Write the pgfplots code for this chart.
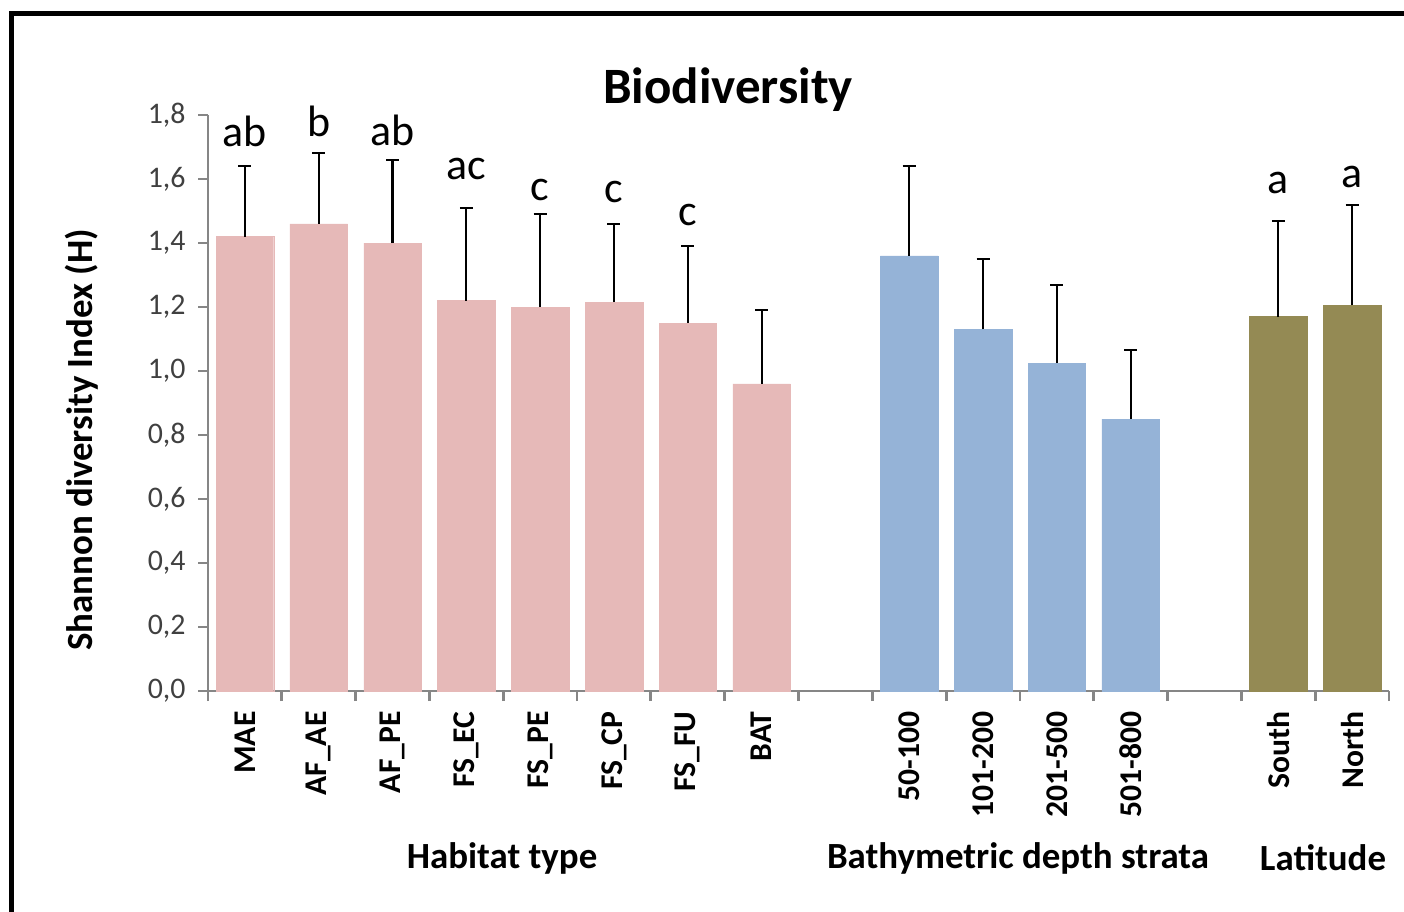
\documentclass[border=0pt]{standalone}
\usepackage{fontspec}
\setmainfont{Carlito}
\usepackage{pgfplots}
\pgfplotsset{compat=1.18}
\usepackage{pgfplotstable}

\definecolor{habit}{HTML}{E6B9B8}
\definecolor{depth}{HTML}{95B3D7}
\definecolor{lat}{HTML}{948A54}
\definecolor{axgray}{HTML}{868686}
\definecolor{ticktxt}{HTML}{404040}

% x = slot, y = mean H, e = upper error
\pgfplotstableread{
x y e
0 1.42 0.22
1 1.46 0.22
2 1.40 0.26
3 1.22 0.29
4 1.20 0.29
5 1.215 0.245
6 1.15 0.24
7 0.96 0.23
}\habitat

\pgfplotstableread{
x y e
9 1.36 0.28
10 1.13 0.22
11 1.025 0.245
12 0.85 0.215
}\depth

\pgfplotstableread{
x y e
14 1.17 0.30
15 1.205 0.315
}\latit

\pgfplotsset{
  hbar/.style={ybar, bar width=0.78, bar shift=0pt, line width=0.1pt},
  ebar/.style={draw=none, mark=none, forget plot,
    error bars/.cd, y dir=plus, y explicit,
    error mark=|,
    error bar style={draw=black, solid, line width=0.6pt},
    error mark options={draw=black, solid, line width=0.6pt, mark size=0.065cm},
    /pgfplots/.cd},
}

\begin{document}
\begin{tikzpicture}
\useasboundingbox (0,0) rectangle (14.04,9.11);
% outer frame (only top and left edges visible)
\draw[line width=0.05cm] (0.11,-0.5) -- (0.11,8.975) -- (14.6,8.975);

\begin{axis}[
  at={(2.08cm,2.20cm)}, anchor=south west,
  scale only axis, width=11.81cm, height=5.76cm,
  xmin=-0.5, xmax=15.5, ymin=0, ymax=1.8,
  axis x line*=bottom, axis y line*=left,
  axis line style={axgray, line width=0.8pt},
  clip=false,
  xtick={0,1,2,3,4,5,6,7,9,10,11,12,14,15},
  xticklabels={MAE,AF\_AE,AF\_PE,FS\_EC,FS\_PE,FS\_CP,FS\_FU,BAT,
    50-100,101-200,201-500,501-800,South,North},
  major x tick style={draw=none},
  minor xtick={-0.5,0.5,1.5,2.5,3.5,4.5,5.5,6.5,7.5,8.5,9.5,10.5,11.5,12.5,13.5,14.5,15.5},
  minor x tick style={draw=axgray, line width=0.8pt},
  ytick={0,0.2,0.4,0.6,0.8,1.0,1.2,1.4,1.6,1.8},
  ytick style={axgray, line width=0.8pt},
  tick align=outside,
  major tick length=0.1cm, minor tick length=0.1cm,
  xticklabel style={font=\fontsize{9}{10}\selectfont\bfseries, rotate=90,
    anchor=east, xshift=0.02cm},
  yticklabel style={font=\fontsize{8.5}{10}\selectfont, text=ticktxt,
    /pgf/number format/.cd, fixed, fixed zerofill, precision=1, use comma,
    assume math mode=true},
]
\addplot[hbar, fill=habit, draw=habit] table[x=x, y=y]{\habitat};
\addplot[hbar, fill=depth, draw=depth] table[x=x, y=y]{\depth};
\addplot[hbar, fill=lat, draw=lat] table[x=x, y=y]{\latit};

% upper error bars
\addplot[ebar] table[x=x, y=y, y error=e]{\habitat};
\addplot[ebar] table[x=x, y=y, y error=e]{\depth};
\addplot[ebar] table[x=x, y=y, y error=e]{\latit};

\begin{scope}[every node/.style={font=\fontsize{12.5}{14}\selectfont, anchor=base}]
\node at (axis cs:0,1.703) {ab};
\node at (axis cs:1,1.734) {b};
\node at (axis cs:2,1.706) {ab};
\node at (axis cs:3,1.597) {ac};
\node at (axis cs:4,1.534) {c};
\node at (axis cs:5,1.528) {c};
\node at (axis cs:6,1.456) {c};
\node at (axis cs:14,1.556) {a};
\node at (axis cs:15,1.575) {a};
\end{scope}
\end{axis}

\node[font=\fontsize{14.5}{17}\selectfont\bfseries] at (7.28,8.21) {Biodiversity};
\node[font=\fontsize{10.5}{12}\selectfont\bfseries, rotate=90] at (0.82,4.71)
  {Shannon diversity Index (H)};
\begin{scope}[every node/.style={font=\fontsize{10.5}{12}\selectfont\bfseries}]
\node at (5.02,0.53) {Habitat type};
\node at (10.18,0.53) {Bathymetric depth strata};
\node at (13.23,0.53) {Latitude};
\end{scope}
\end{tikzpicture}
\end{document}
